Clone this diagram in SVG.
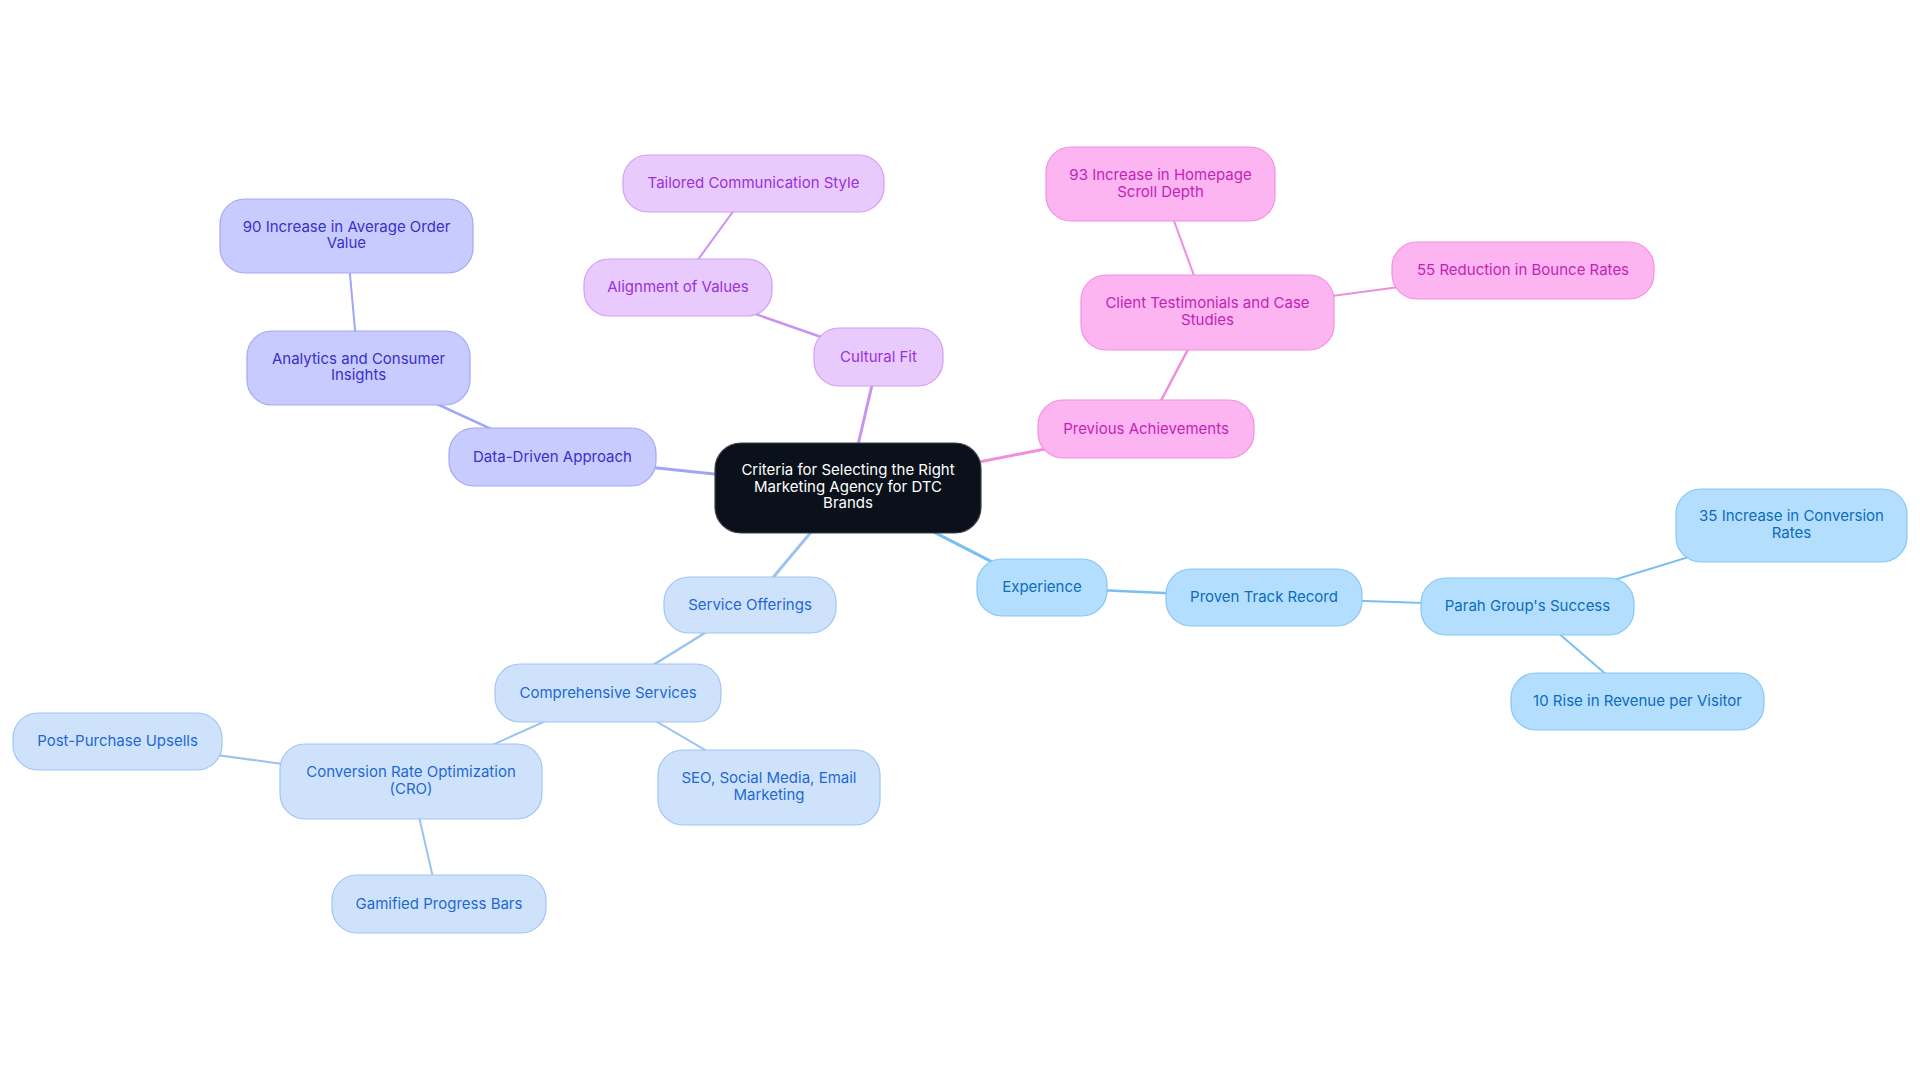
<svg xmlns="http://www.w3.org/2000/svg" width="1920" height="1083" viewBox="0 0 1920 1083">
<style>
text{font-family:Inter,"Liberation Sans",sans-serif;font-size:15px;text-anchor:middle}
.n rect{stroke-width:1.2}
.root rect{fill:#0b111a;stroke:#3b4049}
.root text{fill:#ffffff}
.c1 rect{fill:#c8cbfd;stroke:#a3a8f7}
.c1 text{fill:#3830cc}
.c2 rect{fill:#e8cbfc;stroke:#d49df5}
.c2 text{fill:#9a30e0}
.c3 rect{fill:#fdb5f1;stroke:#f290e3}
.c3 text{fill:#c41fb6}
.c4 rect{fill:#b3defd;stroke:#86c7f4}
.c4 text{fill:#0c6cc0}
.c5 rect{fill:#cee3fb;stroke:#a0c6f3}
.c5 text{fill:#1f68d4}
#edges line{fill:none;stroke-linecap:round}
.e1{stroke:#a0a5f5}
.e2{stroke:#c993f2}
.e3{stroke:#f08edc}
.e4{stroke:#7bbff0}
.e5{stroke:#9ac3f0}
.d1{stroke-width:3}
.d2{stroke-width:2.5}
.d3{stroke-width:2}
</style>
<rect width="1920" height="1083" fill="#ffffff"/>
<g id="edges">
<line class="e1 d1" x1="848" y1="488" x2="552.5" y2="457"/>
<line class="e1 d2" x1="552.5" y1="457" x2="358.5" y2="368"/>
<line class="e1 d3" x1="358.5" y1="368" x2="346.5" y2="236"/>
<line class="e2 d1" x1="848" y1="488" x2="878.5" y2="357"/>
<line class="e2 d2" x1="878.5" y1="357" x2="678" y2="287"/>
<line class="e2 d3" x1="678" y1="287" x2="753.5" y2="183.5"/>
<line class="e3 d1" x1="848" y1="488" x2="1146" y2="429"/>
<line class="e3 d2" x1="1146" y1="429" x2="1207.5" y2="312.5"/>
<line class="e3 d3" x1="1207.5" y1="312.5" x2="1160.5" y2="184"/>
<line class="e3 d3" x1="1207.5" y1="312.5" x2="1523" y2="270.5"/>
<line class="e4 d1" x1="848" y1="488" x2="1042" y2="587.5"/>
<line class="e4 d2" x1="1042" y1="587.5" x2="1264" y2="597.5"/>
<line class="e4 d3" x1="1264" y1="597.5" x2="1527.5" y2="606.5"/>
<line class="e4 d3" x1="1527.5" y1="606.5" x2="1791.5" y2="525.5"/>
<line class="e4 d3" x1="1527.5" y1="606.5" x2="1637.5" y2="701.5"/>
<line class="e5 d1" x1="848" y1="488" x2="750" y2="605"/>
<line class="e5 d2" x1="750" y1="605" x2="608" y2="693"/>
<line class="e5 d3" x1="608" y1="693" x2="769" y2="787.5"/>
<line class="e5 d3" x1="608" y1="693" x2="411" y2="781.5"/>
<line class="e5 d3" x1="411" y1="781.5" x2="117.5" y2="741.5"/>
<line class="e5 d3" x1="411" y1="781.5" x2="439" y2="904"/>
</g>
<g id="root" class="n root"><rect x="715" y="443" width="266" height="90" rx="26"/><text x="848" y="475">Criteria for Selecting the Right</text><text x="848" y="491.7">Marketing Agency for DTC</text><text x="848" y="508.4">Brands</text></g>
<g id="data-driven" class="n c1"><rect x="449" y="428" width="207" height="58" rx="25"/><text x="552.5" y="461.5">Data-Driven Approach</text></g>
<g id="analytics" class="n c1"><rect x="247" y="331" width="223" height="74" rx="25"/><text x="358.5" y="363.7">Analytics and Consumer</text><text x="358.5" y="380.4">Insights</text></g>
<g id="aov" class="n c1"><rect x="220" y="199" width="253" height="74" rx="25"/><text x="346.5" y="231.7">90 Increase in Average Order</text><text x="346.5" y="248.4">Value</text></g>
<g id="cultural-fit" class="n c2"><rect x="814" y="328" width="129" height="58" rx="25"/><text x="878.5" y="361.5">Cultural Fit</text></g>
<g id="alignment" class="n c2"><rect x="584" y="259" width="188" height="57" rx="25"/><text x="678" y="292">Alignment of Values</text></g>
<g id="tailored" class="n c2"><rect x="623" y="155" width="261" height="57" rx="25"/><text x="753.5" y="188.3">Tailored Communication Style</text></g>
<g id="previous" class="n c3"><rect x="1038" y="400" width="216" height="58" rx="25"/><text x="1146" y="433.5">Previous Achievements</text></g>
<g id="testimonials" class="n c3"><rect x="1081" y="275" width="253" height="75" rx="25"/><text x="1207.5" y="308">Client Testimonials and Case</text><text x="1207.5" y="324.7">Studies</text></g>
<g id="scroll-depth" class="n c3"><rect x="1046" y="147" width="229" height="74" rx="25"/><text x="1160.5" y="180">93 Increase in Homepage</text><text x="1160.5" y="196.7">Scroll Depth</text></g>
<g id="bounce" class="n c3"><rect x="1392" y="242" width="262" height="57" rx="25"/><text x="1523" y="275">55 Reduction in Bounce Rates</text></g>
<g id="experience" class="n c4"><rect x="977" y="559" width="130" height="57" rx="25"/><text x="1042" y="592">Experience</text></g>
<g id="track-record" class="n c4"><rect x="1166" y="569" width="196" height="57" rx="25"/><text x="1264" y="602">Proven Track Record</text></g>
<g id="parah" class="n c4"><rect x="1421" y="578" width="213" height="57" rx="25"/><text x="1527.5" y="611">Parah Group's Success</text></g>
<g id="conversion" class="n c4"><rect x="1676" y="489" width="231" height="73" rx="25"/><text x="1791.5" y="521">35 Increase in Conversion</text><text x="1791.5" y="537.7">Rates</text></g>
<g id="revenue" class="n c4"><rect x="1511" y="673" width="253" height="57" rx="25"/><text x="1637.5" y="706">10 Rise in Revenue per Visitor</text></g>
<g id="service" class="n c5"><rect x="664" y="577" width="172" height="56" rx="25"/><text x="750" y="609.5">Service Offerings</text></g>
<g id="comprehensive" class="n c5"><rect x="495" y="664" width="226" height="58" rx="25"/><text x="608" y="697.5">Comprehensive Services</text></g>
<g id="seo" class="n c5"><rect x="658" y="750" width="222" height="75" rx="25"/><text x="769" y="783">SEO, Social Media, Email</text><text x="769" y="799.7">Marketing</text></g>
<g id="cro" class="n c5"><rect x="280" y="744" width="262" height="75" rx="25"/><text x="411" y="777">Conversion Rate Optimization</text><text x="411" y="793.7">(CRO)</text></g>
<g id="upsells" class="n c5"><rect x="13" y="713" width="209" height="57" rx="25"/><text x="117.5" y="746">Post-Purchase Upsells</text></g>
<g id="gamified" class="n c5"><rect x="332" y="875" width="214" height="58" rx="25"/><text x="439" y="908.5">Gamified Progress Bars</text></g>
</svg>
